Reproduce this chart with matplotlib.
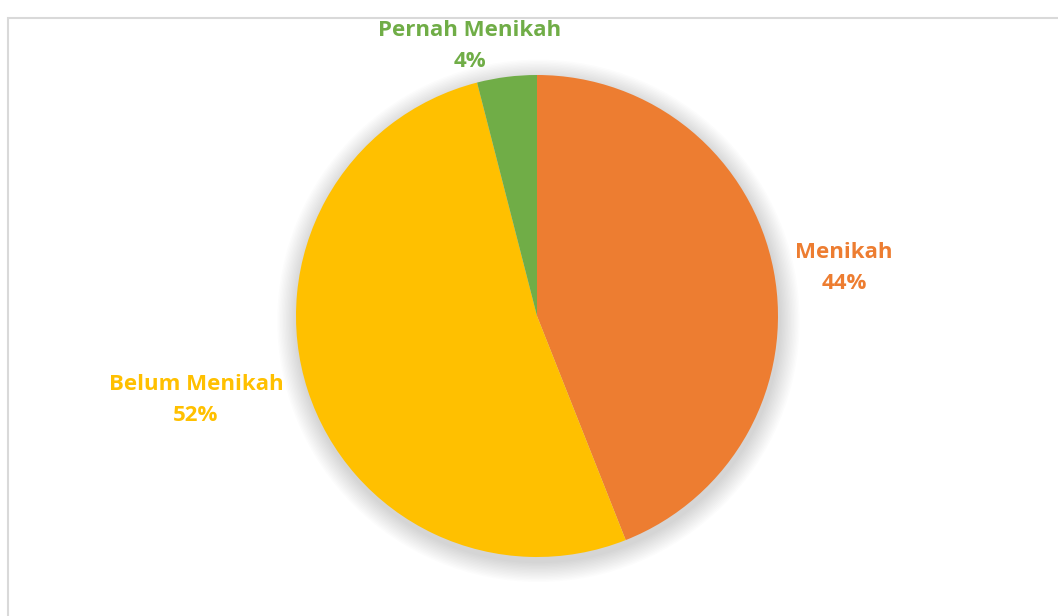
import matplotlib
matplotlib.use('Agg')
import matplotlib.pyplot as plt
from matplotlib.patches import Rectangle, Circle

labels = ['Menikah', 'Belum Menikah', 'Pernah Menikah']
values = [44, 52, 4]
colors = ['#ED7D31', '#FFC000', '#70AD47']

W, H = 1058, 616
fig = plt.figure(figsize=(W / 100, H / 100), dpi=100)
fig.patch.set_facecolor('white')

# chart area border (runs off the right and bottom edges)
fig.patches.append(Rectangle((8 / W, -0.1), 1.2, (H - 18) / H + 0.1,
                             transform=fig.transFigure, fill=False,
                             edgecolor='#D9D9D9', linewidth=1.5))

cx, cy, r = 537, 316, 241
ax = fig.add_axes([(cx - r) / W, (H - cy - r) / H, 2 * r / W, 2 * r / H])
ax.axis('off')

# soft shadow behind the pie
for i in range(14):
    ax.add_patch(Circle((0.006, -0.02), 1.0 + 0.006 * (14 - i), color='black',
                        alpha=0.011, lw=0, zorder=0, clip_on=False))

ax.pie(values, colors=colors, startangle=90, counterclock=False, radius=1,
       wedgeprops=dict(linewidth=0, zorder=2))
ax.set_xlim(-1, 1)
ax.set_ylim(-1, 1)
ax.set_aspect('equal')

font = 'Open Sans'
label_pos = [(844, 268), (196, 400), (470, 46)]
for lab, v, c, (x, y) in zip(labels, values, colors, label_pos):
    fig.text(x / W, 1 - y / H, f'{lab}\n{v}%', color=c, fontsize=16,
             fontweight='bold', family=font, ha='center', va='center',
             linespacing=1.6)

fig.savefig('out.png', dpi=100)
